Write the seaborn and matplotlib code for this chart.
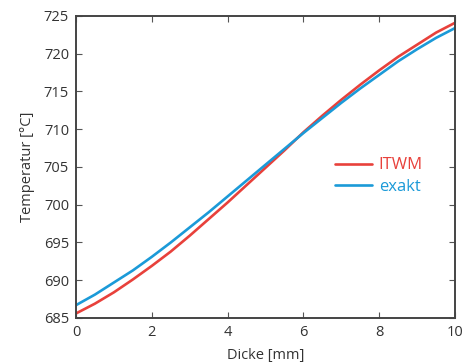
import numpy as np
import pandas as pd
import matplotlib
matplotlib.use("Agg")
import matplotlib.pyplot as plt
import seaborn as sns

# ---- data ----
dicke = [0, 0.5, 1, 1.5, 2, 2.5, 3, 3.5, 4, 4.5, 5,
         5.5, 6, 6.5, 7, 7.5, 8, 8.5, 9, 9.5, 10]
temp_itwm = [685.6, 686.9, 688.4, 690.1, 691.9, 693.8, 695.9, 698.1, 700.3, 702.6, 704.9,
             707.2, 709.6, 711.8, 713.9, 715.9, 717.8, 719.6, 721.2, 722.8, 724.1]
temp_exakt = [686.7, 688.1, 689.7, 691.3, 693.1, 695.0, 697.0, 699.0, 701.1, 703.2, 705.3,
              707.4, 709.5, 711.5, 713.5, 715.4, 717.2, 719.0, 720.6, 722.1, 723.4]
series = ["ITWM", "exakt"]
colors = ["#e8413b", "#1b9ad8"]
xticks = [0, 2, 4, 6, 8, 10]
yticks = [685, 690, 695, 700, 705, 710, 715, 720, 725]

df = pd.DataFrame({
    "Dicke": dicke * 2,
    "Temperatur": temp_itwm + temp_exakt,
    "Serie": [series[0]] * len(dicke) + [series[1]] * len(dicke),
})

sns.set_style("white")
plt.rcParams["font.family"] = ["Open Sans", "DejaVu Sans"]
text_col = "#333333"

fig = plt.figure(figsize=(4.75, 3.63), dpi=100)
ax = fig.add_axes([0.160, 0.124, 0.798, 0.832])

sns.lineplot(data=df, x="Dicke", y="Temperatur", hue="Serie",
             palette=dict(zip(series, colors)), linewidth=1.9, ax=ax)

ax.set_xlim(0, 10)
ax.set_ylim(685, 725)
ax.set_xticks(xticks)
ax.set_yticks(yticks)
ax.set_xlabel("Dicke [mm]", fontsize=10.5, color=text_col, labelpad=6)
ax.set_ylabel("Temperatur [°C]", fontsize=10.5, color=text_col, labelpad=6)
ax.tick_params(direction="in", length=4, width=0.8, colors="#555555",
               labelsize=10.5, labelcolor=text_col, top=True, right=True,
               bottom=True, left=True, pad=5)
for s in ax.spines.values():
    s.set_color("#444444")
    s.set_linewidth(1.4)

leg = ax.legend(frameon=False, loc="center left", bbox_to_anchor=(0.645, 0.469),
                fontsize=12, handlelength=2.2, handletextpad=0.4,
                labelspacing=0.35, labelcolor="linecolor")
for line in leg.get_lines():
    line.set_linewidth(1.9)

fig.savefig("out.png", dpi=100)
